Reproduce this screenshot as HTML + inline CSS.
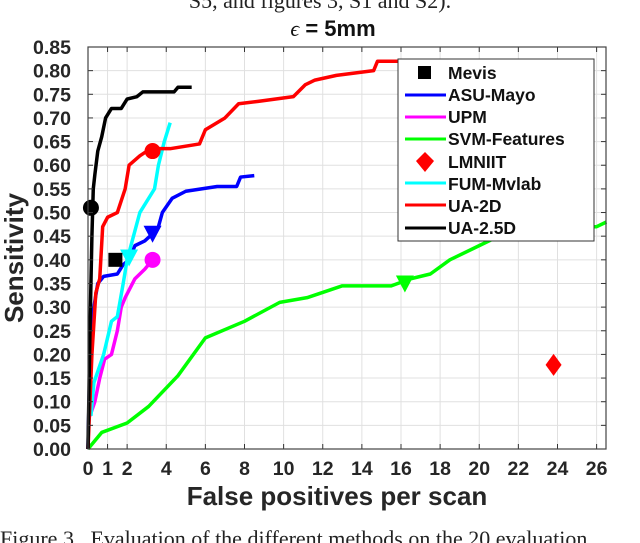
<!DOCTYPE html>
<html><head><meta charset="utf-8"><style>
body{margin:0;background:#fff;width:640px;height:543px;overflow:hidden}
svg{display:block}
text{font-family:"Liberation Sans",sans-serif}
.tk{font-weight:bold;font-size:19.5px;fill:#262626}
</style></head><body>
<svg id="chart" width="640" height="543">
<text x="320" y="8" font-size="22" text-anchor="middle" fill="#222" style="font-family:'Liberation Serif',serif">S5, and figures 3, S1 and S2).</text>
<text x="333" y="36" text-anchor="middle" font-size="22" font-weight="bold" fill="#111"><tspan font-style="italic" font-weight="normal" style="font-family:'Liberation Serif',serif">ϵ</tspan> = 5mm</text>
<g id="grid"></g><g id="series"></g><g id="axes"></g>
<text x="337" y="505" text-anchor="middle" font-size="26" font-weight="bold" fill="#262626">False positives per scan</text>
<text transform="translate(23,258) rotate(-90)" text-anchor="middle" font-size="26" font-weight="bold" fill="#262626">Sensitivity</text>
<text x="0" y="546" font-size="22" fill="#222" style="font-family:'Liberation Serif',serif">Figure 3 . Evaluation of the different methods on the 20 evaluation</text>
<g>
<rect x="398" y="59" width="196" height="182" fill="#fff" stroke="#333" stroke-width="1"/>
<rect x="418" y="66" width="13" height="13" fill="#000"/>
<text x="448" y="79" font-size="17.5" font-weight="bold" fill="#111">Mevis</text>
<line x1="405" y1="95" x2="446" y2="95" stroke="#00f" stroke-width="3"/>
<text x="448" y="101" font-size="17.5" font-weight="bold" fill="#111">ASU-Mayo</text>
<line x1="405" y1="117" x2="446" y2="117" stroke="#f0f" stroke-width="3"/>
<text x="448" y="123" font-size="17.5" font-weight="bold" fill="#111">UPM</text>
<line x1="405" y1="139" x2="446" y2="139" stroke="#0f0" stroke-width="3"/>
<text x="448" y="145" font-size="17.5" font-weight="bold" fill="#111">SVM-Features</text>
<polygon points="425,152 434,161 425,172 416,161" fill="#f00"/>
<text x="448" y="168" font-size="17.5" font-weight="bold" fill="#111">LMNIIT</text>
<line x1="405" y1="183" x2="446" y2="183" stroke="#0ff" stroke-width="3"/>
<text x="448" y="190" font-size="17.5" font-weight="bold" fill="#111">FUM-Mvlab</text>
<line x1="405" y1="205" x2="446" y2="205" stroke="#f00" stroke-width="3"/>
<text x="448" y="212" font-size="17.5" font-weight="bold" fill="#111">UA-2D</text>
<line x1="405" y1="228" x2="446" y2="228" stroke="#000" stroke-width="3"/>
<text x="448" y="234" font-size="17.5" font-weight="bold" fill="#111">UA-2.5D</text>
</g>
</svg>
<script>
const xTicks=[0,1,2,4,6,8,10,12,14,16,18,20,22,24,26];
const yTicks=[0,0.05,0.1,0.15,0.2,0.25,0.3,0.35,0.4,0.45,0.5,0.55,0.6,0.65,0.7,0.75,0.8,0.85];
const ua25dX=[0,0.1,0.2,0.27,0.35,0.5,0.7,0.9,1.2,1.7,2.0,2.5,2.8,4.4,4.6,5.3];
const ua25dY=[0,0.25,0.45,0.55,0.58,0.63,0.66,0.70,0.72,0.72,0.74,0.745,0.755,0.755,0.765,0.765];
const ua2dX=[0,0.2,0.4,0.6,0.75,1.0,1.5,1.9,2.1,2.65,3.2,4.2,5.7,6.0,7.0,7.7,8.7,10.5,11.1,11.6,12.7,14.6,14.8,16];
const ua2dY=[0,0.2,0.33,0.36,0.47,0.49,0.5,0.55,0.6,0.62,0.635,0.635,0.645,0.675,0.7,0.73,0.735,0.745,0.77,0.78,0.79,0.8,0.82,0.82];
const asuX=[0,0.1,0.3,0.5,0.8,1.5,1.8,2.1,2.4,2.9,3.3,3.6,3.8,4.3,5.0,6.6,7.6,7.8,8.5];
const asuY=[0,0.2,0.3,0.35,0.365,0.37,0.39,0.4,0.43,0.44,0.455,0.47,0.5,0.53,0.545,0.555,0.555,0.575,0.578];
const upmX=[0.1,0.35,0.6,0.85,1.2,1.5,1.7,1.9,2.4,2.9,3.3];
const upmY=[0.07,0.1,0.15,0.19,0.2,0.25,0.3,0.32,0.36,0.38,0.4];
const fumX=[0.15,0.3,0.8,1.2,1.5,1.8,2.0,2.65,3.4,3.6,3.9,4.2];
const fumY=[0.07,0.14,0.2,0.27,0.28,0.35,0.4,0.5,0.55,0.6,0.65,0.69];
const svmX=[0,0.7,2,3.1,4.6,6,8,9.8,11.2,13,15.5,16.5,17.5,18.5,20,21,22,26,26.5];
const svmY=[0,0.035,0.055,0.09,0.155,0.235,0.27,0.31,0.32,0.345,0.345,0.36,0.37,0.40,0.43,0.45,0.47,0.47,0.48];
const mevisPt=[1.4,0.40];
const lmniitPt=[23.8,0.178];
const ua25dMark=[0.15,0.51], ua2dMark=[3.3,0.63], asuMark=[3.3,0.455], upmMark=[3.3,0.40], fumMark=[2.1,0.405], svmMark=[16.2,0.35];

const L=88,R=606,T=47,B=449,XMAX=26.48,YMAX=0.85;
const sx=v=>L+v/XMAX*(R-L), sy=v=>B-v/YMAX*(B-T);
const NS='http://www.w3.org/2000/svg';
function mk(tag,attrs,parent){const e=document.createElementNS(NS,tag);for(const k in attrs)e.setAttribute(k,attrs[k]);parent.appendChild(e);return e;}
const grid=document.getElementById('grid'),axes=document.getElementById('axes'),ser=document.getElementById('series');
mk('rect',{x:L,y:T,width:R-L,height:B-T,fill:'#fff'},grid);
xTicks.forEach(t=>{const x=sx(t);
 const g=mk('line',{x1:x,y1:T,x2:x,y2:B,stroke:'#e0e0e0','stroke-width':1},grid);
 
 mk('line',{x1:x,y1:B,x2:x,y2:B-5,stroke:'#333'},axes);mk('line',{x1:x,y1:T,x2:x,y2:T+5,stroke:'#333'},axes);
 const tx=mk('text',{x:x,y:B+26,'text-anchor':'middle',class:'tk'},axes);tx.textContent=t;
 });
yTicks.forEach(t=>{const y=sy(t);
 const g=mk('line',{x1:L,y1:y,x2:R,y2:y,stroke:'#e0e0e0','stroke-width':1},grid);
 
 mk('line',{x1:L,y1:y,x2:L+5,y2:y,stroke:'#333'},axes);mk('line',{x1:R,y1:y,x2:R-5,y2:y,stroke:'#333'},axes);
 const tx=mk('text',{x:71,y:y+7,'text-anchor':'end',class:'tk'},axes);tx.textContent=t.toFixed(2);
 });
const fr=mk('rect',{x:L,y:T,width:R-L,height:B-T,fill:'none',stroke:'#444','stroke-width':1.2},axes);

function line(xs,ys,c,name){const p=mk('polyline',{points:xs.map((v,i)=>sx(v)+','+sy(ys[i])).join(' '),fill:'none',stroke:c,'stroke-width':3.5,'stroke-linejoin':'round'},ser);
 }
function circ(pt,c,name){const e=mk('circle',{cx:sx(pt[0]),cy:sy(pt[1]),r:8,fill:c},ser);}
function tri(pt,c,name){const x=sx(pt[0]),y=sy(pt[1]);const e=mk('polygon',{points:`${x-9},${y-8} ${x+9},${y-8} ${x},${y+9}`,fill:c},ser);}
line(svmX,svmY,'#0f0','svm-features-line');
line(upmX,upmY,'#f0f','upm-line');
line(asuX,asuY,'#00f','asu-mayo-line');
line(fumX,fumY,'#0ff','fum-mvlab-line');
line(ua2dX,ua2dY,'#f00','ua-2d-line');
line(ua25dX,ua25dY,'#000','ua-2-5d-line');
circ(ua25dMark,'#000','ua-2-5d-marker');circ(ua2dMark,'#f00','ua-2d-marker');circ(upmMark,'#f0f','upm-marker');
tri(asuMark,'#00f','asu-mayo-marker');tri(fumMark,'#0ff','fum-mvlab-marker');tri(svmMark,'#0f0','svm-features-marker');
{const x=sx(mevisPt[0]),y=sy(mevisPt[1]);const e=mk('rect',{x:x-7,y:y-7,width:14,height:14,fill:'#000'},ser);
 }
{const x=sx(lmniitPt[0]),y=sy(lmniitPt[1]);const e=mk('polygon',{points:`${x},${y-11} ${x+8},${y} ${x},${y+11} ${x-8},${y}`,fill:'#f00'},ser);
 }
</script>
</body></html>
